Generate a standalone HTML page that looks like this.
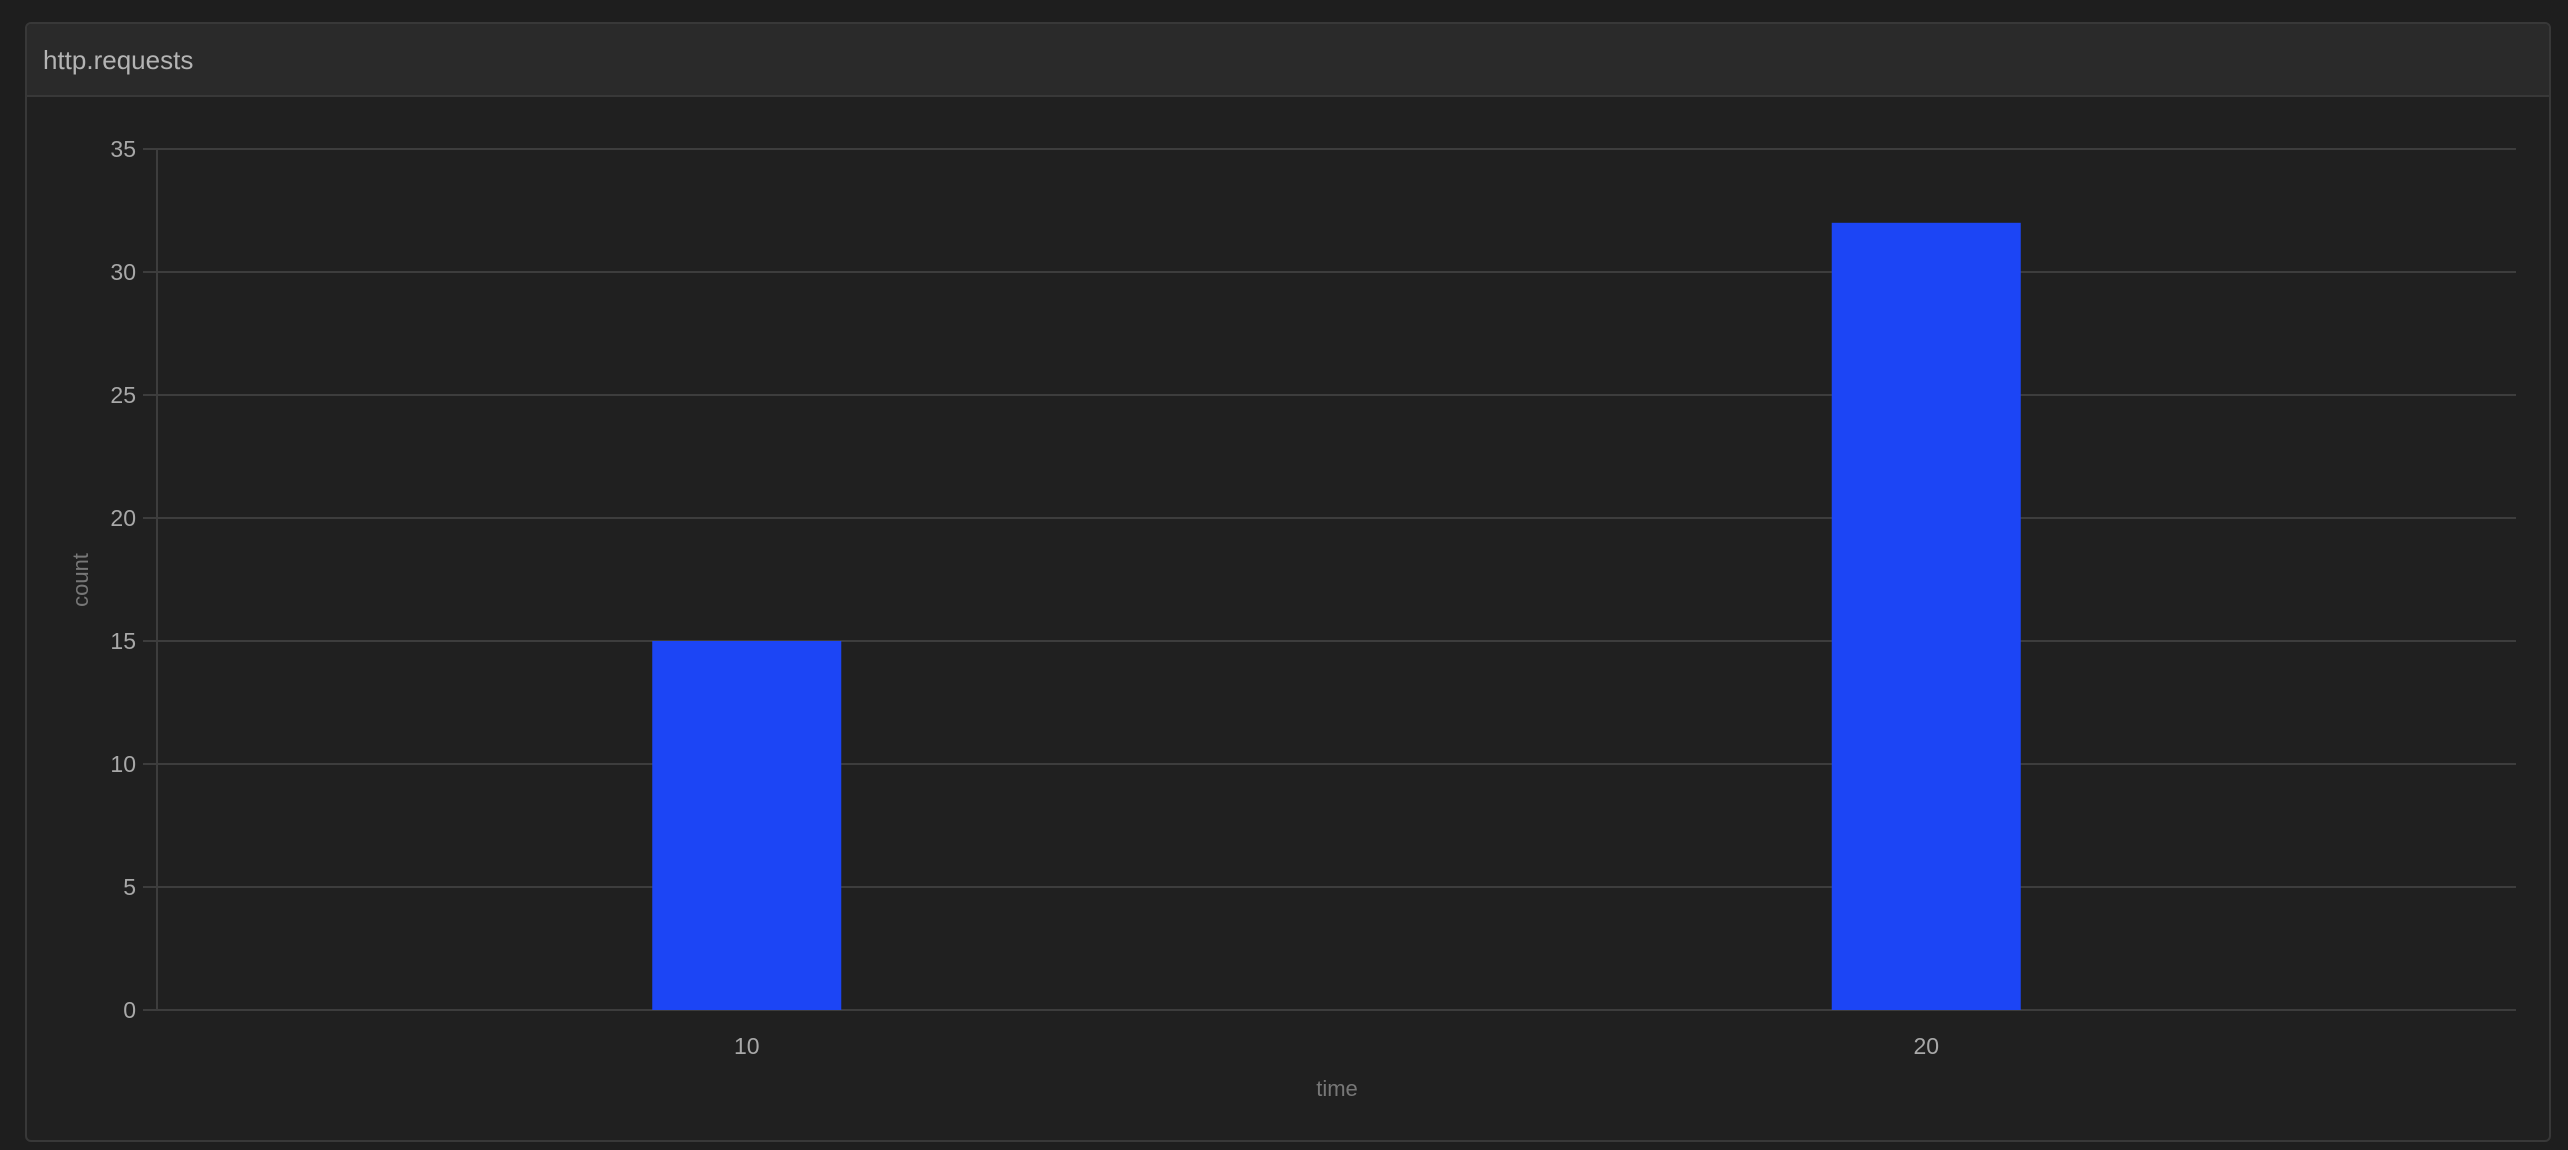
<!DOCTYPE html>
<html><head><meta charset="utf-8"><style>
html,body{margin:0;padding:0;width:2568px;height:1150px;background:#1e1e1e;overflow:hidden;font-family:"Liberation Sans",sans-serif}
#panel{position:absolute;left:25px;top:22px;width:2526px;height:1120px;border:2px solid #383838;border-radius:6px;background:#202020;box-sizing:border-box;overflow:hidden}
#hdr{position:absolute;left:0;top:0;right:0;height:71px;background:#2a2a2a;border-bottom:2px solid #383838}
#title{position:absolute;left:16px;top:21px;font-size:26px;color:#b4b4b4}
svg{position:absolute;left:0;top:0}
</style></head><body>
<div id="panel">
<div id="hdr"><div id="title">http.requests</div></div>
</div>
<svg id="chart" width="2568" height="1150"></svg>
<script>
const categories = ["10","20"];
const values = [15,32];
const yTicks = [0,5,10,15,20,25,30,35];
const NS="http://www.w3.org/2000/svg";
const svg=document.getElementById('chart');
const L=157,R=2516,T=149,B=1010,yMax=35;
const y=v=>B-(v/yMax)*(B-T);
const band=(R-L)/categories.length;
const xc=i=>L+band*(i+0.5);
const bw=189;
function mk(t,a){const e=document.createElementNS(NS,t);for(const k in a)e.setAttribute(k,a[k]);svg.appendChild(e);return e;}
yTicks.forEach(t=>{
  const g=mk('line',{x1:143,x2:R,y1:y(t),y2:y(t),stroke:'#3d3d3d','stroke-width':2});
  
  
  const tx=mk('text',{x:136,y:y(t)+8,'text-anchor':'end','font-size':23,fill:'#a8a8a8','font-family':'Liberation Sans, sans-serif'});
  tx.textContent=t;
  
  
});
const ax=mk('line',{x1:L,x2:L,y1:T,y2:B,stroke:'#3d3d3d','stroke-width':2});


categories.forEach((c,i)=>{
  const r=mk('rect',{x:xc(i)-bw/2,y:y(values[i]),width:bw,height:B-y(values[i]),fill:'#1c45f5'});
  
  
  const tx=mk('text',{x:xc(i),y:1054,'text-anchor':'middle','font-size':23,fill:'#a8a8a8','font-family':'Liberation Sans, sans-serif'});
  tx.textContent=c;
  
  
});
const xt=mk('text',{x:1337,y:1096,'text-anchor':'middle','font-size':22,fill:'#777','font-family':'Liberation Sans, sans-serif'});
xt.textContent='time';


const yt=mk('text',{x:0,y:0,'text-anchor':'middle','font-size':22,fill:'#777','font-family':'Liberation Sans, sans-serif',transform:'translate(88,580) rotate(-90)'});
yt.textContent='count';


</script>
</body></html>
